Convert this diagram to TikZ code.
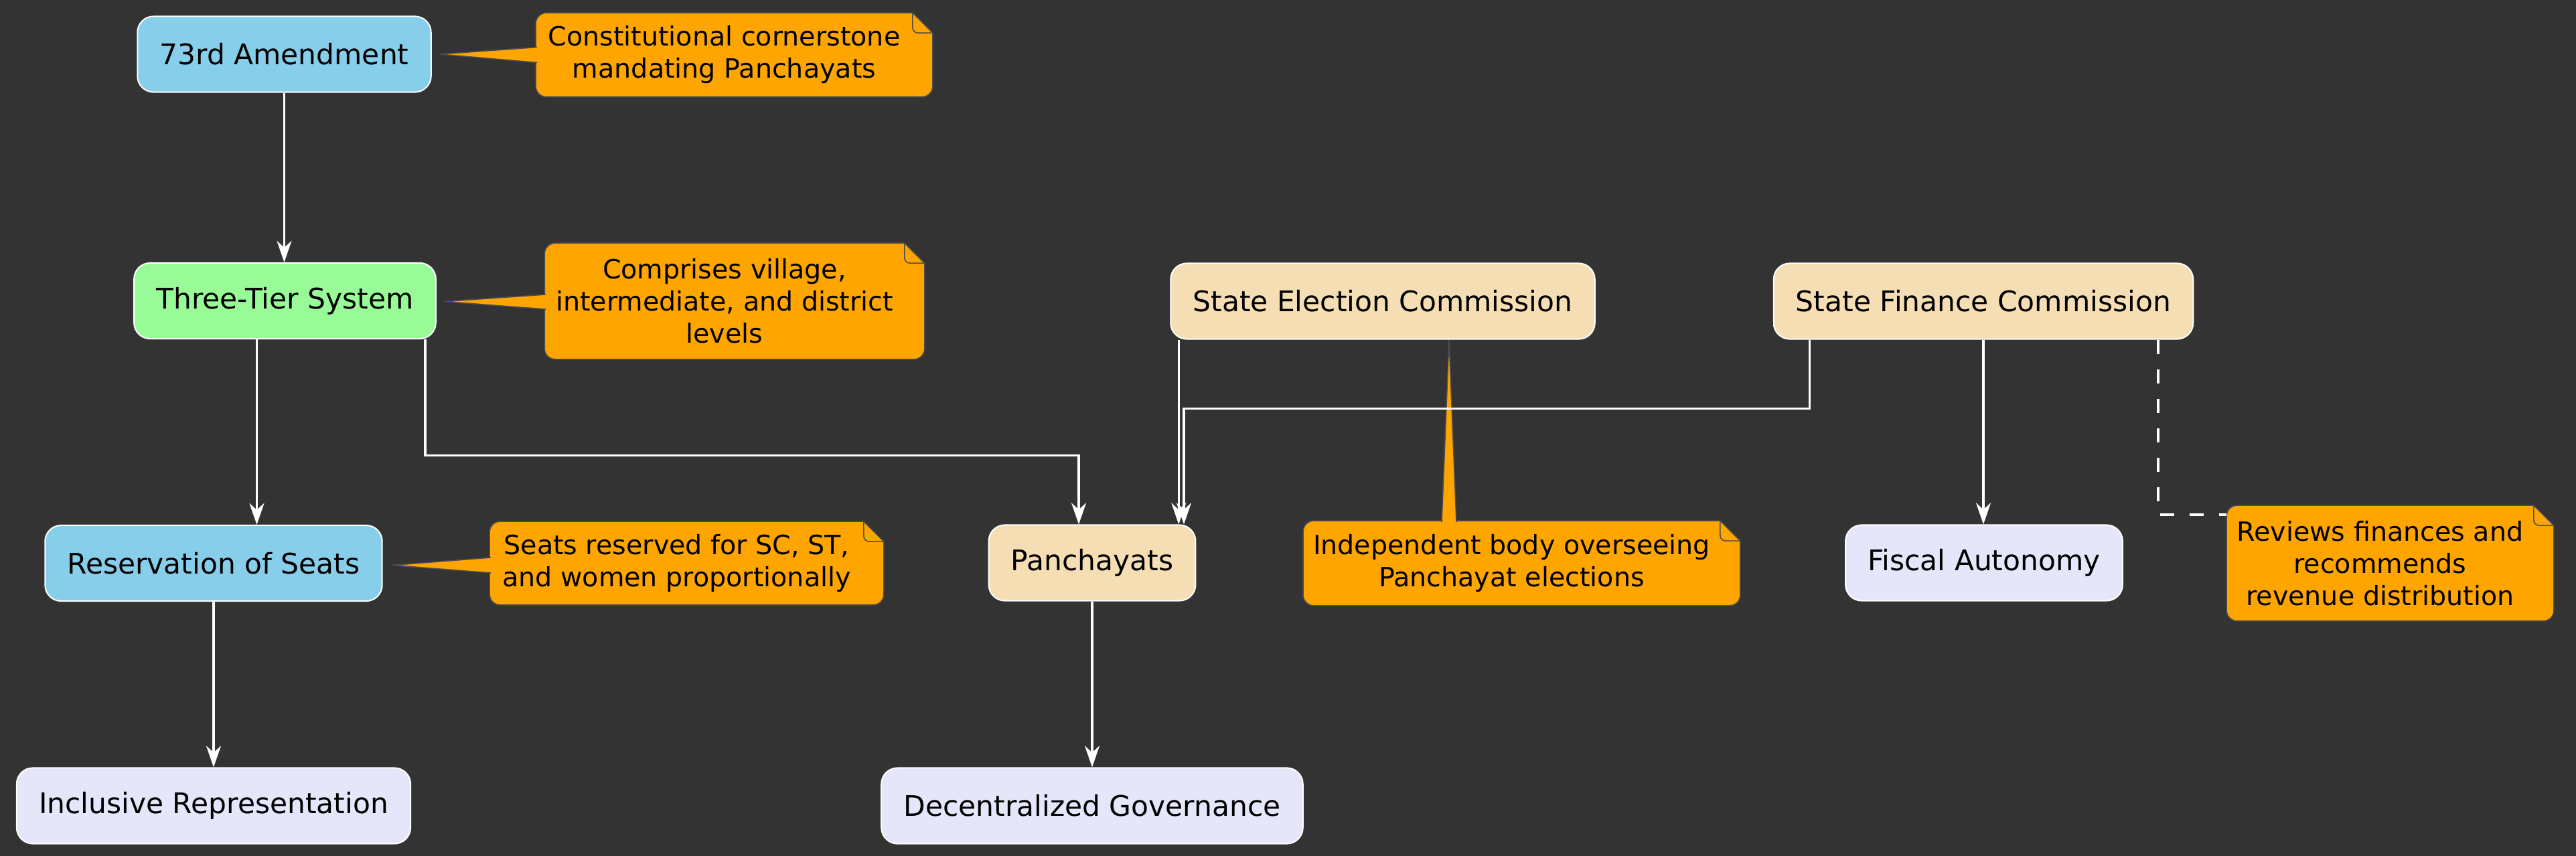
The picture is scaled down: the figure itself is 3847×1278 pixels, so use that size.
\documentclass[tikz,border=0pt]{standalone}
\usepackage{fontspec}
\setmainfont{DejaVu Sans}
\usetikzlibrary{arrows.meta,calc,backgrounds}

\definecolor{darkbg}{HTML}{333333}
\definecolor{skyblue}{HTML}{87CEEB}
\definecolor{palegreen}{HTML}{98FB98}
\definecolor{wheat}{HTML}{F5DEB3}
\definecolor{lavender}{HTML}{E6E6FA}
\definecolor{noteorange}{HTML}{FFA500}
\definecolor{noteline}{HTML}{4D4D4D}

\tikzset{
	box/.style={draw=white, line width=0.5pt, rounded corners=6pt, inner xsep=8.3pt, minimum height=28.3pt, text=black, font=\fontsize{10.6pt}{12.7pt}\selectfont},
	notetext/.style={inner sep=0pt, align=center, text=black, font=\fontsize{9.9pt}{12pt}\selectfont},
	notebody/.style={fill=noteorange, draw=noteline, line width=0.4pt},
	link/.style={draw=white, line width=0.85pt, -{Stealth[length=8pt,width=5.5pt,inset=2.5pt]}},
	hint/.style={draw=white, line width=1.1pt, dash pattern=on 5.3pt off 5.7pt},
}

% body of a note: text area plus folded corner
\newcommand{\notebody}[1]{%
	\path[notebody] (#1.north east) -- ([xshift=7.5pt,yshift=-7.5pt]#1.north east) [rounded corners=4pt] -- ([xshift=7.5pt]#1.south east) -- (#1.south west) -- (#1.north west) [sharp corners] -- cycle;
	\draw[noteline, line width=0.4pt, rounded corners=2pt] (#1.north east) -- ([yshift=-7.5pt]#1.north east) -- ([xshift=7.5pt,yshift=-7.5pt]#1.north east);
}
% pointer of a note
\newcommand{\notetip}[3]{%
	\fill[noteorange] (#1) -- (#3) -- (#2) -- cycle;
	\draw[noteline, line width=0.4pt] (#1) -- (#3) -- (#2);
}

\begin{document}
\begin{tikzpicture}[x=0.25pt, y=-0.25pt]
	\useasboundingbox (0,0) rectangle (3847,1278);
	\begin{pgfonlayer}{background}
		\fill[darkbg] (-20,-20) rectangle (3867,1298);
	\end{pgfonlayer}
% draw boxes
	\node[box, fill=skyblue] (amend) at (424.5,81) {73rd Amendment};
	\node[box, fill=palegreen] (tier) at (425.5,449.5) {Three-Tier System};
	\node[box, fill=skyblue] (res) at (319,841.5) {Reservation of Seats};
	\node[box, fill=lavender] (incl) at (319,1204) {Inclusive Representation};
	\node[box, fill=wheat] (panch) at (1631,841) {Panchayats};
	\node[box, fill=lavender] (dec) at (1631,1204) {Decentralized Governance};
	\node[box, fill=wheat] (sec) at (2065,450) {State Election Commission};
	\node[box, fill=wheat] (sfc) at (2962,450) {State Finance Commission};
	\node[box, fill=lavender] (fisc) at (2963,841) {Fiscal Autonomy};
% draw notes
	\node[notetext, minimum width=140.3pt, minimum height=31pt] (n1) at (1081.5,82) {Constitutional cornerstone\\mandating Panchayats};
	\node[notetext, minimum width=134pt, minimum height=43pt] (n2) at (1082,450) {Comprises village,\\intermediate, and district\\levels};
	\node[notetext, minimum width=139.3pt, minimum height=30.8pt] (n3) at (1010.5,841.5) {Seats reserved for SC, ST,\\and women proportionally};
	\node[notetext, minimum width=155.3pt, minimum height=31.3pt] (nsec) at (2257.5,841.5) {Independent body overseeing\\Panchayat elections};
	\node[notetext, minimum width=114.3pt, minimum height=42.8pt] (n4) at (3554.5,841.5) {Reviews finances and\\recommends\\revenue distribution};
	\begin{pgfonlayer}{background}
		\notebody{n1}
		\notebody{n2}
		\notebody{n3}
		\notebody{nsec}
		\notebody{n4}
		\notetip{$(n1.west)+(2,-11.5)$}{$(n1.west)+(2,11.5)$}{$(amend.east)+(12,0)$}
		\notetip{$(n2.west)+(2,-10)$}{$(n2.west)+(2,12)$}{$(tier.east)+(11,1)$}
		\notetip{$(n3.west)+(2,-8.5)$}{$(n3.west)+(2,14.5)$}{$(res.east)+(14,3)$}
		\notetip{$(nsec.north)+(-104.5,2)$}{$(nsec.north)+(-82.5,2)$}{$(sec.south)+(99,0)$}
	\end{pgfonlayer}
% connection points
	\coordinate (tierL) at ($(tier.south)+(-42,0)$);
	\coordinate (tierR) at ($(tier.south)+(209.5,0)$);
	\coordinate (panchL) at ($(panch.north)+(-20,0)$);
	\coordinate (panchR) at ($(panch.north)+(137,0)$);
	\coordinate (secL) at ($(sec.south west)+(13,0)$);
	\coordinate (sfcL) at ($(sfc.south west)+(55,0)$);
	\coordinate (sfcR) at ($(sfc.south east)+(-53,0)$);
% draw links
	\draw[link] (amend.south) -- (amend.south |- tier.north);
	\draw[link] (tierL) -- (tierL |- res.north);
	\draw[link] (tierR) |- ($(panchL)+(0,-103)$) -- (panchL);
	\draw[link] (res.south) -- (incl.north);
	\draw[link] (panch.south) -- (dec.north);
	\draw[link] (secL) -- (secL |- panch.north);
	\draw[link] (sfcL) |- ($(panchR)+(0,-173)$) -- (panchR);
	\draw[link] (sfc.south) -- (sfc.south |- fisc.north);
	\draw[hint] (sfcR) |- ($(n4.north west)+(0,14)$);
\end{tikzpicture}
\end{document}
